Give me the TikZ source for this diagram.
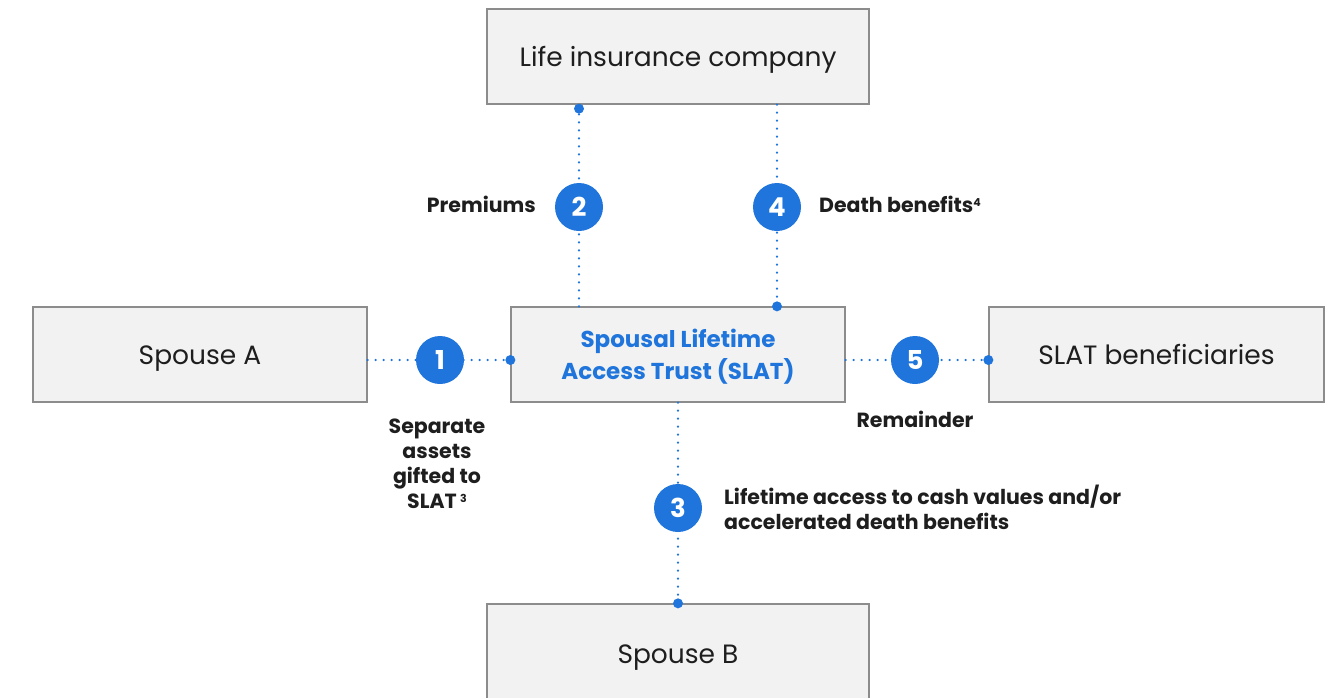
\documentclass[tikz,border=0pt]{standalone}
\usepackage{fontspec}
\setmainfont{Poppins}
\usetikzlibrary{calc}
\definecolor{cblue}{RGB}{31,117,219}
\definecolor{boxfill}{RGB}{242,242,242}
\definecolor{boxline}{RGB}{140,140,140}
\definecolor{txt}{RGB}{30,30,30}
\tikzset{
  boxshape/.style={draw=boxline, line width=1.3pt, fill=boxfill, inner sep=0pt},
  box/.style={boxshape, font=\fontsize{26.5}{30}\selectfont, text=txt, text height=19pt, text depth=0pt},
  num/.style={circle, fill=cblue, text=white, minimum size=48pt, inner sep=0pt, font=\fontsize{26}{26}\selectfont\bfseries},
  lbl/.style={font=\fontsize{20.5}{25}\selectfont\bfseries, text=txt, inner sep=0pt},
  dotline/.style={cblue, line width=2.4pt, line cap=round, dash pattern=on 0pt off 8pt},
  enddot/.style={circle, fill=cblue, minimum size=10pt, inner sep=0pt}
}
\newcommand{\supnum}[1]{\raisebox{6pt}{\fontsize{11}{11}\selectfont #1}}
\begin{document}
\begin{tikzpicture}[x=1pt, y=-1pt]
\useasboundingbox (0,0) rectangle (1328,697);
\clip (0,0) rectangle (1328,697);
% boxes
\node[box, minimum width=382pt, minimum height=95pt] (life) at (678,56.5) {Life insurance company};
\node[box, minimum width=334pt, minimum height=95pt] (spa) at (200,354.5) {Spouse A};
\node[boxshape, minimum width=334pt, minimum height=95pt, align=center, text=cblue, font=\fontsize{23}{32}\selectfont\bfseries] (slat) at (678,354.5) {\rule{0pt}{23pt}Spousal Lifetime\\Access Trust (SLAT)};
\node[box, minimum width=335pt, minimum height=95pt] (ben) at (1156.5,354.5) {SLAT beneficiaries};
\node[box, minimum width=382pt, minimum height=100pt] (spb) at (678,654) {Spouse B};
% circle positions
\coordinate (p1) at (440,360);
\coordinate (p2) at (579,207);
\coordinate (p3) at (678,508);
\coordinate (p4) at (777,207);
\coordinate (p5) at (915,360);
% connectors
\draw[dotline] (spa.east |- p1) -- (slat.west |- p1);
\node[enddot] (d1) at (slat.west |- p1) {};
\draw[dotline] (slat.north -| p2) -- (life.south -| p2);
\node[enddot] (d2) at ($(life.south -| p2)+(0,4)$) {};
\draw[dotline] (life.south -| p4) -- (slat.north -| p4);
\node[enddot] (d4) at (slat.north -| p4) {};
\draw[dotline] (slat.south) -- (spb.north);
\node[enddot] (d3) at (spb.north) {};
\draw[dotline] (slat.east |- p5) -- (ben.west |- p5);
\node[enddot] (d5) at (ben.west |- p5) {};
% numbers
\node[num] (n1) at (p1) {1};
\node[num] (n2) at (p2) {2};
\node[num] (n3) at (p3) {3};
\node[num] (n4) at (p4) {4};
\node[num] (n5) at (p5) {5};
% labels
\node[lbl, anchor=east] (lprem) at (536,204) {Premiums};
\node[lbl, anchor=west] (ldeath) at (819,204) {Death benefits\supnum{4}};
\node[lbl] (lrem) at (915,419) {Remainder};
\node[lbl, align=center] (lsep) at (437,464) {Separate\\assets\\gifted to\\SLAT\,\supnum{3}};
\node[lbl, align=left, anchor=west] (llife) at (724,507) {Lifetime access to cash values and/or\\accelerated death benefits};
\end{tikzpicture}
\end{document}
